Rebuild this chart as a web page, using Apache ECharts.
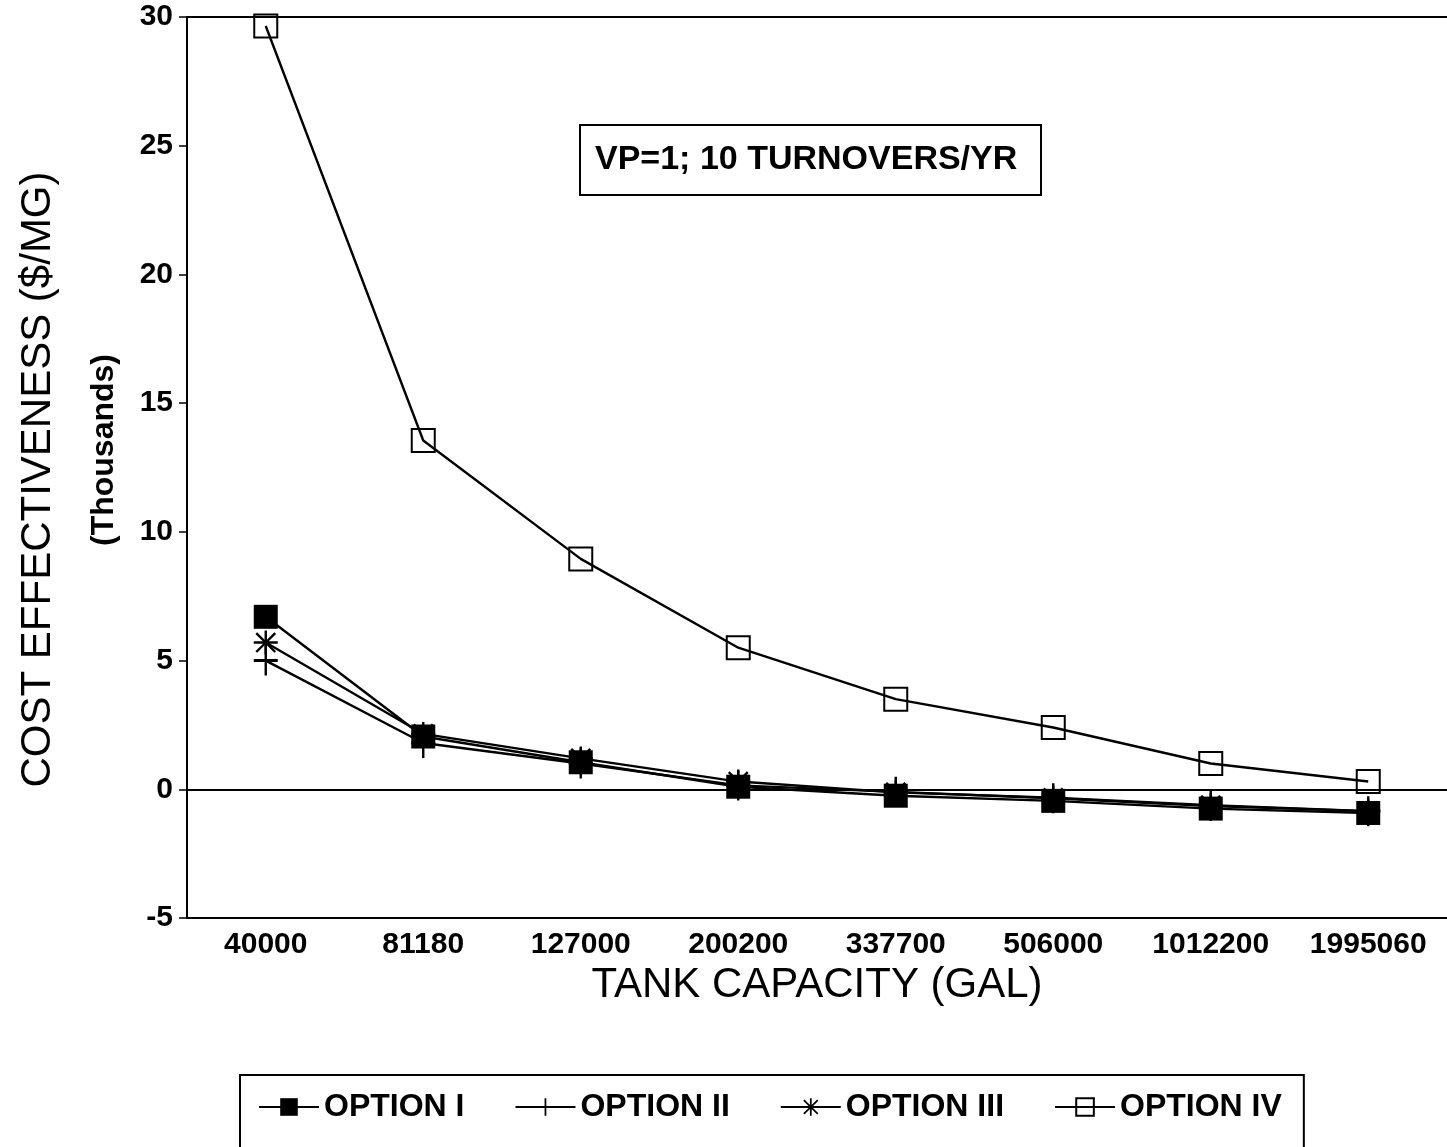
<!DOCTYPE html>
<html>
<head>
<meta charset="utf-8">
<script src="https://cdn.jsdelivr.net/npm/echarts@6/dist/echarts.min.js"></script>
<style>
  html, body { margin: 0; padding: 0; background: #fff; }
  #chart { width: 1447px; height: 1147px; }
</style>
</head>
<body>
<div id="chart"></div>
<script>
const categories = ['40000', '81180', '127000', '200200', '337700', '506000', '1012200', '1995060'];
const optionI   = [6.7, 2.05, 1.05, 0.1, -0.25, -0.45, -0.75, -0.92];
const optionII  = [5.0, 1.8, 1.0, 0.15, -0.1, -0.35, -0.65, -0.85];
const optionIII = [5.7, 2.15, 1.2, 0.3, -0.12, -0.33, -0.62, -0.85];
const optionIV  = [29.65, 13.55, 8.95, 5.5, 3.5, 2.4, 1.0, 0.3];
const seriesNames = ['OPTION I', 'OPTION II', 'OPTION III', 'OPTION IV'];
const yTicks = { min: -5, max: 30, interval: 5 };

const FONT = '"Liberation Sans", Arial, sans-serif';
const PLUS = 'path://M9,0 H11 V9 H20 V11 H11 V20 H9 V11 H0 V9 H9 Z';
const STAR = 'path://M0,9 H20 V11 H0 Z M9,0 H11 V20 H9 Z M1.4,2.8 L2.8,1.4 L18.6,17.2 L17.2,18.6 Z M17.2,1.4 L18.6,2.8 L2.8,18.6 L1.4,17.2 Z';

const chart = echarts.init(document.getElementById('chart'), null, { renderer: 'canvas' });

function lineSeries(name, data, symbol, size, itemStyle) {
  return {
    name, type: 'line', data, symbol, symbolSize: size,
    showAllSymbol: true,
    lineStyle: { color: '#000', width: 2.4 },
    itemStyle: Object.assign({ color: '#000' }, itemStyle || {}),
    emphasis: { disabled: true },
    animation: false
  };
}

const series = [
  lineSeries(seriesNames[0], optionI, 'rect', 24, { color: '#000' }),
  lineSeries(seriesNames[1], optionII, PLUS, [24, 30], { color: '#000' }),
  lineSeries(seriesNames[2], optionIII, STAR, 24, { color: '#000' }),
  lineSeries(seriesNames[3], optionIV, 'rect', 23, { color: 'rgba(0,0,0,0)', borderColor: '#000', borderWidth: 2 })
];
series[0].markLine = {
  silent: true, symbol: 'none', animation: false,
  label: { show: false },
  lineStyle: { color: '#000', width: 2, type: 'solid' },
  data: [{ yAxis: 0 }, { yAxis: 30 }]
};

chart.setOption({
  backgroundColor: '#fff',
  animation: false,
  textStyle: { fontFamily: FONT, color: '#000' },
  title: {
    text: 'VP=1; 10 TURNOVERS/YR',
    left: 580, top: 125,
    padding: [18, 24, 18, 15],
    borderColor: '#000', borderWidth: 2,
    textStyle: { fontFamily: FONT, fontSize: 34, fontWeight: 'bold', color: '#000' }
  },
  legend: {
    data: seriesNames,
    left: 240, top: 1075,
    padding: [16, 22, 40, 18],
    borderColor: '#000', borderWidth: 2,
    itemWidth: 60, itemHeight: 22, itemGap: 50,
    textStyle: { fontFamily: FONT, fontSize: 32, fontWeight: 'bold', color: '#000' }
  },
  grid: { left: 187, right: 0, top: 17, bottom: 229, containLabel: false, outerBoundsMode: 'none' },
  xAxis: {
    type: 'category',
    data: categories,
    boundaryGap: true,
    name: 'TANK CAPACITY (GAL)',
    nameLocation: 'middle',
    nameGap: 28,
    nameTextStyle: { fontFamily: FONT, fontSize: 42, color: '#000' },
    axisLine: { onZero: false, lineStyle: { color: '#000', width: 2 } },
    axisTick: { alignWithLabel: true, length: 10, lineStyle: { color: '#000', width: 2 } },
    axisLabel: { margin: 12, fontFamily: FONT, fontSize: 30, fontWeight: 'bold', color: '#000' },
    splitLine: { show: false }
  },
  yAxis: {
    type: 'value',
    min: yTicks.min, max: yTicks.max, interval: yTicks.interval,
    name: 'COST EFFECTIVENESS ($/MG)',
    nameLocation: 'middle',
    nameRotate: 90,
    nameGap: 128,
    nameTextStyle: { fontFamily: FONT, fontSize: 42, color: '#000', padding: [0, 24, 0, 0] },
    axisLine: { show: true, lineStyle: { color: '#000', width: 2 } },
    axisTick: { show: true, length: 8, lineStyle: { color: '#000', width: 1.5 } },
    axisLabel: { margin: 14, fontFamily: FONT, fontSize: 30, fontWeight: 'bold', color: '#000' },
    splitLine: { show: false }
  },
  graphic: [{
    type: 'text',
    x: 104, y: 450,
    rotation: Math.PI / 2,
    style: {
      text: '(Thousands)',
      font: 'bold 32px ' + FONT,
      fill: '#000',
      textAlign: 'center',
      textVerticalAlign: 'middle'
    }
  }],
  series
});
</script>
</body>
</html>
